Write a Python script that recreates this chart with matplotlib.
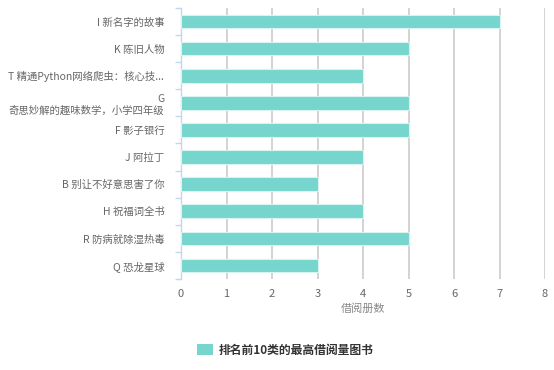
import matplotlib.pyplot as plt
import numpy as np
from matplotlib.patches import Patch

plt.rcParams['font.family'] = ['Noto Sans CJK SC', 'DejaVu Sans']

# top-10 books, top to bottom
books = ['I 新名字的故事', 'K 陈旧人物', 'T 精通Python网络爬虫：核心技...',
         'G\n奇思妙解的趣味数学，小学四年级', 'F 影子银行', 'J 阿拉丁',
         'B 别让不好意思害了你', 'H 祝福词全书', 'R 防病就除湿热毒', 'Q 恐龙星球']
counts = [7, 5, 4, 5, 5, 4, 3, 4, 5, 3]
xticks = [0, 1, 2, 3, 4, 5, 6, 7, 8]

bar_color = '#76d5cc'
text_color = '#666666'
axis_color = '#c3d6ea'

fig = plt.figure(figsize=(5.54, 3.70), dpi=100)
ax = fig.add_axes([181 / 554, 1 - 279 / 370, 364 / 554, 271 / 370])

ypos = np.arange(len(books))
ax.barh(ypos, counts, height=0.5, color=bar_color, edgecolor='#d8f3f0',
        linewidth=0.8, zorder=3)
ax.set_ylim(len(books) - 0.5, -0.5)
ax.set_xlim(0, 8)

# vertical grid
for x in xticks[1:]:
    ax.axvline(x, color='#cccccc', linewidth=1.2, zorder=1)

ax.set_xticks(xticks)
ax.set_xticklabels([str(v) for v in xticks])
ax.tick_params(axis='x', length=0, pad=7, labelsize=8, labelcolor=text_color)

ax.set_yticks(ypos)
ax.set_yticklabels(books, fontsize=7.5, color=text_color, linespacing=1.15)
ax.tick_params(axis='y', length=0, pad=12)
# category boundary ticks
ax.set_yticks(np.arange(-0.5, len(books) + 0.5, 1), minor=True)
ax.tick_params(axis='y', which='minor', length=4, color=axis_color, width=1)

for s in ['top', 'right', 'bottom']:
    ax.spines[s].set_visible(False)
ax.spines['left'].set_color(axis_color)
ax.spines['left'].set_linewidth(1)

ax.set_xlabel('借阅册数', fontsize=8, color='#888888', labelpad=3)

fig.legend(handles=[Patch(facecolor=bar_color, edgecolor='none')],
           labels=['排名前10类的最高借阅量图书'],
           loc='center', bbox_to_anchor=(0.515, 1 - 350 / 370), frameon=False,
           handlelength=1.3, handleheight=1.0, handletextpad=0.5,
           prop={'size': 8.5, 'weight': 'bold'}, labelcolor='#333333')

fig.savefig('out.png', dpi=100)
